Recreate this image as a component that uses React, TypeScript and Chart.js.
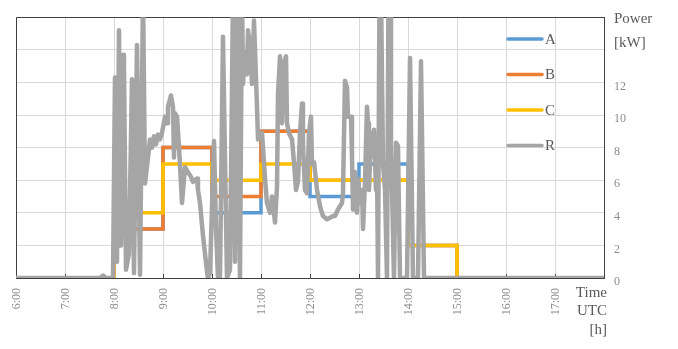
import { useEffect, useRef } from 'react';
import { Chart, registerables } from 'chart.js';

Chart.register(...registerables);

// Scheduled power per hour slot (value holds from that hour to the next)
const slotHours = [6, 7, 8, 9, 10, 11, 12, 13, 14, 15, 16, 17, 18];
const seriesA = [0, 0, 3, 8, 4, 9, 5, 7, 2, 0, 0, 0, 0];
const seriesB = [0, 0, 3, 8, 5, 9, 6, 6, 2, 0, 0, 0, 0];
const seriesC = [0, 0, 4, 7, 6, 7, 6, 6, 2, 0, 0, 0, 0];

// Measured power R
const rHours = [
  6.0, 7.714, 7.776, 7.837, 7.98, 8.02, 8.061, 8.102, 8.143, 8.184, 8.204, 8.245,
  8.306, 8.367, 8.408, 8.469, 8.531, 8.592, 8.633, 8.694, 8.735, 8.776, 8.816,
  8.857, 8.898, 8.939, 8.98, 9.041, 9.082, 9.102, 9.163, 9.204, 9.224, 9.245,
  9.286, 9.327, 9.388, 9.449, 9.51, 9.571, 9.612, 9.694, 9.714, 9.755, 9.816,
  9.898, 9.918, 9.959, 10.041, 10.082, 10.122, 10.163, 10.224, 10.306, 10.367,
  10.429, 10.469, 10.51, 10.571, 10.612, 10.633, 10.673, 10.714, 10.735, 10.776,
  10.816, 10.857, 10.918, 10.939, 10.98, 11.02, 11.041, 11.082, 11.122, 11.184,
  11.224, 11.265, 11.286, 11.327, 11.347, 11.388, 11.429, 11.469, 11.51, 11.531,
  11.571, 11.633, 11.673, 11.714, 11.755, 11.796, 11.837, 11.857, 11.898, 11.939,
  11.98, 12.02, 12.041, 12.082, 12.143, 12.204, 12.265, 12.347, 12.408, 12.469,
  12.51, 12.571, 12.653, 12.673, 12.714, 12.755, 12.776, 12.837, 12.857, 12.878,
  12.918, 12.959, 12.98, 13.02, 13.061, 13.082, 13.122, 13.163, 13.184, 13.204,
  13.245, 13.286, 13.306, 13.347, 13.367, 13.388, 13.418, 13.449, 13.49, 13.531,
  13.571, 13.602, 13.633, 13.653, 13.673, 13.714, 13.755, 13.796, 13.837, 13.98,
  14.041, 14.102, 14.204, 14.265, 14.327, 18.0,
];
const rPower = [
  0, 0, 0.15, 0, 0, 12.3, 1.0, 15.2, 2.0, 13.7, 12.9, 0.5,
  1.5, 12.2, 0.3, 14.3, 0.2, 17.5, 5.8, 7.4, 8.5, 8.0, 8.7,
  8.2, 8.8, 8.5, 8.9, 9.9, 9.5, 10.5, 11.2, 10.5, 7.4, 10.1,
  9.9, 8.0, 4.6, 6.8, 6.5, 6.2, 5.9, 6.1, 5.4, 4.6, 2.6,
  0.4, 0, 0.3, 8.4, 3.0, 0, 0, 14.8, 0, 0.5,
  17.5, 1.0, 17.5, 0, 17.5, 11.9, 13.9, 12.5, 15.2, 14.2,
  11.9, 15.8, 10.5, 8.5, 8.9, 8.9, 8.0, 6.1, 4.6, 4.0,
  5.0, 4.0, 3.4, 5.6, 11.3, 13.6, 9.5, 13.2, 13.6, 9.5,
  8.9, 8.5, 7.1, 5.4, 5.9, 8.9, 10.7, 8.1, 5.4, 5.2,
  8.9, 9.9, 7.0, 7.1, 5.4, 4.4, 3.8, 3.6, 3.7, 3.8,
  3.8, 4.2, 4.6, 5.2, 12.1, 11.7, 9.9, 9.9, 7.5, 4.2,
  6.5, 4.0, 6.1, 4.6, 5.4, 3.0, 5.8, 10.5, 9.5, 5.4,
  8.9, 7.5, 9.1, 5.4, 7.0, 0, 17.5, 17.5, 7.0, 5.4,
  0, 17.5, 17.5, 7.7, 5.6, 0, 8.3, 8.1, 0, 0,
  13.5, 0, 0, 13.3, 0, 0,
];

const seriesNames = ['A', 'B', 'C', 'R'];
const seriesColors = ['#5B9BD5', '#ED7D31', '#FFC000', '#A5A5A5'];
const xTitleLines = ['Time', 'UTC', '[h]'];
const yTitleLines = ['Power', '[kW]'];

const SERIF = '"Liberation Serif", "Times New Roman", serif';
const TEXT_DARK = '#595959';
const TEXT_TICK = '#8C8C8C';
const FRAME = '#404040';

// Frame on the left/top edges, the in-plot legend and the axis titles
const notesPlugin = {
  id: 'notes',
  beforeDatasetsDraw(chart: any) {
    const { ctx, chartArea } = chart;
    const { left, top, right, bottom } = chartArea;
    ctx.save();
    ctx.strokeStyle = FRAME;
    ctx.lineWidth = 1;
    ctx.beginPath();
    ctx.moveTo(Math.round(left) + 0.5, bottom);
    ctx.lineTo(Math.round(left) + 0.5, Math.round(top) + 0.5);
    ctx.lineTo(right, Math.round(top) + 0.5);
    ctx.stroke();
    ctx.restore();
  },
  afterDraw(chart: any) {
    const { ctx } = chart;
    ctx.save();
    ctx.font = `15px ${SERIF}`;
    ctx.fillStyle = TEXT_DARK;
    ctx.textBaseline = 'middle';

    // legend
    seriesNames.forEach((name, i) => {
      const y = 39 + i * 35.5;
      ctx.strokeStyle = seriesColors[i];
      ctx.lineWidth = 3.5;
      ctx.lineCap = 'round';
      ctx.beginPath();
      ctx.moveTo(508, y);
      ctx.lineTo(542, y);
      ctx.stroke();
      ctx.textAlign = 'left';
      ctx.fillText(name, 545, y + 1);
    });

    // y title
    ctx.textAlign = 'left';
    ctx.fillText(yTitleLines[0], 614, 19);
    ctx.fillText(yTitleLines[1], 614, 43);

    // x title
    ctx.textAlign = 'right';
    xTitleLines.forEach((t, i) => ctx.fillText(t, 607, 293 + i * 18.5));
    ctx.restore();
  },
};

export default function App() {
  const canvasRef = useRef<HTMLCanvasElement | null>(null);

  useEffect(() => {
    const canvas = canvasRef.current;
    if (!canvas) return;
    Chart.defaults.font.family = SERIF;

    // horizontal first, then vertical: each value holds until the next hour
    const stepSet = (i: number, values: number[]) => ({
      label: seriesNames[i],
      data: slotHours.map((h, k) => ({ x: h, y: values[k] })),
      stepped: 'before' as const,
      borderColor: seriesColors[i],
      backgroundColor: seriesColors[i],
      borderWidth: 3.5,
      pointRadius: 0,
      fill: false,
      order: 3 - i,
    });

    const chart = new Chart(canvas, {
      type: 'line',
      data: {
        datasets: [
          stepSet(0, seriesA),
          stepSet(1, seriesB),
          stepSet(2, seriesC),
          {
            label: seriesNames[3],
            data: rHours.map((h, k) => ({ x: h, y: rPower[k] })),
            borderColor: seriesColors[3],
            backgroundColor: seriesColors[3],
            borderWidth: 4.5,
            borderJoinStyle: 'round',
            pointRadius: 0,
            tension: 0,
            fill: false,
            order: 0,
          },
        ],
      },
      options: {
        responsive: false,
        animation: false,
        devicePixelRatio: 1,
        layout: { padding: { left: 16, top: 7, right: 0, bottom: 0 } },
        plugins: {
          legend: { display: false },
          tooltip: { enabled: false },
          title: { display: false },
        },
        scales: {
          x: {
            type: 'linear',
            min: 6,
            max: 18,
            afterFit: (scale: any) => {
              scale.height = 71;
            },
            ticks: {
              stepSize: 1,
              autoSkip: false,
              minRotation: 90,
              maxRotation: 90,
              padding: 14,
              labelOffset: 1,
              color: TEXT_TICK,
              font: { family: SERIF, size: 12 },
              callback: (v: any) => (Number(v) < 18 ? `${v}:00` : ''),
            },
            grid: {
              color: '#D9D9D9',
              lineWidth: 1,
              drawTicks: true,
              tickLength: -4,
              tickColor: FRAME,
            },
            border: { color: FRAME, width: 1 },
          },
          y: {
            type: 'linear',
            position: 'right',
            min: 0,
            max: 16,
            afterFit: (scale: any) => {
              scale.width = 74;
            },
            ticks: {
              stepSize: 2,
              padding: 10,
              labelOffset: 4,
              color: TEXT_TICK,
              font: { family: SERIF, size: 12 },
              callback: (v: any) => (Number(v) <= 12 ? String(v) : ''),
            },
            grid: { color: '#D9D9D9', lineWidth: 1, drawTicks: false },
            border: { color: FRAME, width: 1 },
          },
        },
      },
      plugins: [notesPlugin],
    });

    return () => chart.destroy();
  }, []);

  return (
    <canvas
      ref={canvasRef}
      width={678}
      height={349}
      style={{ position: 'absolute', left: 0, top: 0, display: 'block', width: 678, height: 349, background: '#fff' }}
    />
  );
}
